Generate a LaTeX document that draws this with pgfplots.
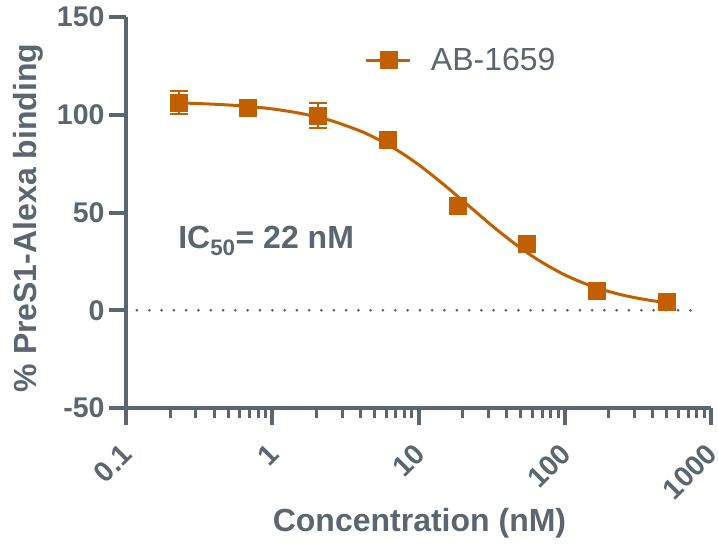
\documentclass[border=0pt]{standalone}
\usepackage{pgfplots}
\pgfplotsset{compat=1.18}
\usepackage{fontspec}
\setmainfont{Liberation Sans}
\definecolor{ax}{RGB}{91,102,112}
\definecolor{cv}{RGB}{194,95,0}
\pgfplotstableread{
x y e
0.22862 106.2 5.7
0.68587 103.6 2.0
2.0576 99.6 6.2
6.1728 87.2 2.0
18.519 53.3 2.0
55.556 33.9 2.0
166.67 9.8 1.5
500 4.1 1.5
}\datatbl
\pgfplotstableread{
x y
0.2286 106.1
0.3981 105.4
0.631 104.5
1 103.0
1.585 100.6
2.512 97.05
3.981 91.75
5.012 88.3
6.310 84.3
7.943 79.7
10 74.5
12.59 68.7
15.85 62.6
19.95 56.2
25.12 49.8
31.62 43.4
39.81 37.4
50.12 31.7
63.10 26.6
79.43 22.1
100 18.1
125.9 14.77
158.5 11.95
199.5 9.61
251.2 7.70
316.2 6.14
398.1 4.88
500 3.88
}\fittbl
\begin{document}
\begin{tikzpicture}[x=1pt,y=1pt]
\begin{axis}[
  scale only axis, width=585pt, height=391pt,
  at={(0pt,0pt)}, anchor=south west,
  xmode=log, xmin=0.1, xmax=1000, ymin=-50, ymax=150,
  axis x line*=bottom, axis y line*=left,
  axis line style={ax, line width=4pt, -},
  xtick={0.1,1,10,100,1000},
  xticklabels={0.1,1,10,100,1000},
  minor xtick={0.2,0.3,0.4,0.5,0.6,0.7,0.8,0.9,2,3,4,5,6,7,8,9,20,30,40,50,60,70,80,90,200,300,400,500,600,700,800,900},
  ytick={-50,0,50,100,150},
  yticklabels={-50,0,50,100,150},
  tick align=outside,
  major tick length=17pt, minor tick length=10pt,
  tick style={ax, line width=4pt},
  minor tick style={ax, line width=3pt},
  tick label style={font=\fontsize{28.5}{28.5}\selectfont\bfseries, text=ax},
  yticklabel style={xshift=-1pt},
  xticklabel style={rotate=45, anchor=east, xshift=-13pt, yshift=-18pt},
  xlabel={Concentration (nM)},
  ylabel={\% PreS1-Alexa binding},
  label style={font=\fontsize{32}{32}\selectfont\bfseries, text=ax},
  xlabel style={at={(axis description cs:0.5017,-0.294)}, anchor=center},
  ylabel style={at={(axis description cs:-0.1675,0.486)}, anchor=center},
  clip=false,
  legend style={at={(rel axis cs:0.403,0.89)}, anchor=west, draw=none, fill=none,
    font=\fontsize{32}{32}\selectfont, text=ax,
    /tikz/every odd column/.append style={column sep=17pt}},
  legend cell align=left,
]
\addplot[forget plot, ax, line width=3pt, dash pattern=on 0pt off 12.3pt, line cap=round]
  coordinates {(0.1189,0) (860,0)};
\addplot[forget plot, cv, line width=3pt, smooth] table[x=x,y=y] {\fittbl};
\addplot[cv, only marks, mark=square*, mark size=8.5pt,
  mark options={fill=cv, draw=cv, line width=0pt},
  legend image code/.code={\draw[cv, line width=3pt] (0pt,0pt) -- (44pt,0pt);
    \fill[cv] (13.5pt,-8.5pt) rectangle (30.5pt,8.5pt);},
  error bars/.cd, y dir=both, y explicit,
  error bar style={cv, line width=2pt},
  error mark options={cv, rotate=90, mark size=9pt, line width=2pt}]
  table[x=x, y=y, y error=e] {\datatbl};
\addlegendentry{AB-1659}
\node[anchor=west, inner sep=0pt, text=ax, font=\fontsize{32}{32}\selectfont\bfseries]
  at (axis cs:0.227,35.3) {IC\textsubscript{50}= 22 nM};
\end{axis}
\pgfresetboundingbox
\useasboundingbox (-126pt,-139pt) rectangle (592pt,408pt);
\end{tikzpicture}
\end{document}
